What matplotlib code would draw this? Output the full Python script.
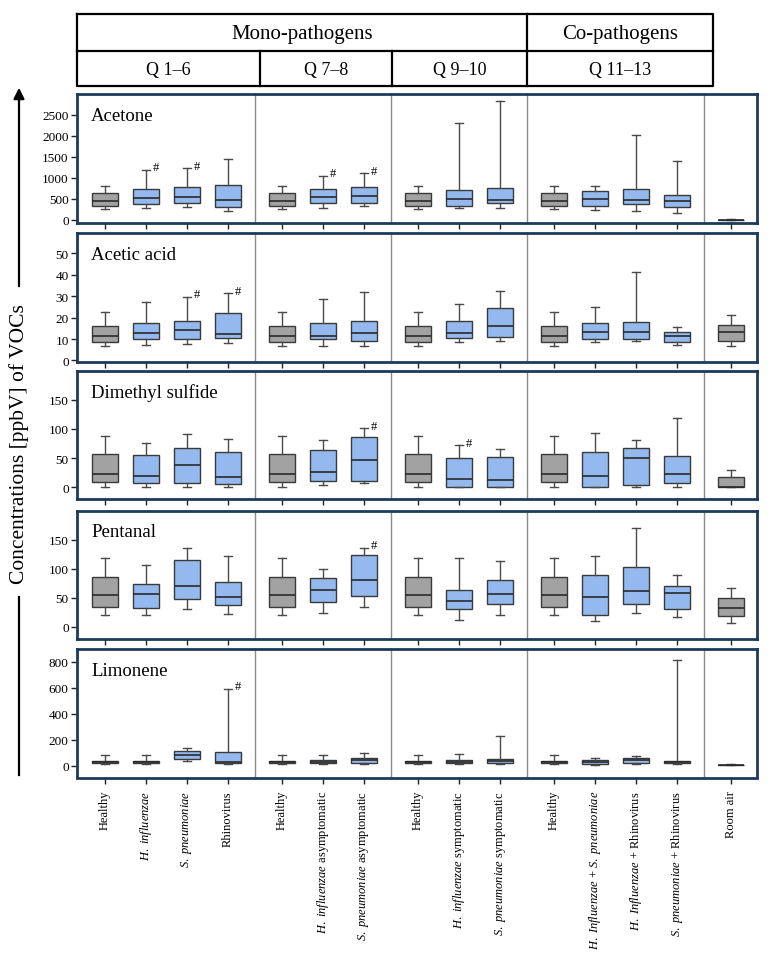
import matplotlib
matplotlib.use('Agg')
import matplotlib.pyplot as plt

plt.rcParams['font.family'] = ['Liberation Serif', 'DejaVu Serif']
plt.rcParams['mathtext.fontset'] = 'custom'
plt.rcParams['mathtext.rm'] = 'Liberation Serif'
plt.rcParams['mathtext.it'] = 'Liberation Serif:italic'

# ---- data ----
group_sizes = [4, 3, 3, 4, 1]
top_headers = ['Mono-pathogens', 'Co-pathogens']
q_headers = ['Q 1–6', 'Q 7–8', 'Q 9–10', 'Q 11–13']

labels = ['Healthy', r'$\mathit{H.\ influenzae}$', r'$\mathit{S.\ pneumoniae}$', 'Rhinovirus',
          'Healthy', r'$\mathit{H.\ influenzae}$ asymptomatic', r'$\mathit{S.\ pneumoniae}$ asymptomatic',
          'Healthy', r'$\mathit{H.\ influenzae}$ symptomatic', r'$\mathit{S.\ pneumoniae}$ symptomatic',
          'Healthy', r'$\mathit{H.\ Influenzae}$ + $\mathit{S.\ pneumoniae}$',
          r'$\mathit{H.\ Influenzae}$ + Rhinovirus', r'$\mathit{S.\ pneumoniae}$ + Rhinovirus',
          'Room air']
gray_boxes = [0, 4, 7, 10, 14]

compounds = ['Acetone', 'Acetic acid', 'Dimethyl sulfide', 'Pentanal', 'Limonene']

acetone_lo = [256, 287, 304, 215, 256, 287, 335, 256, 287, 273, 256, 225, 208, 153, 0]
acetone_q1 = [320, 368, 407, 297, 320, 392, 400, 320, 335, 400, 320, 335, 383, 311, 2]
acetone_med = [440, 512, 543, 464, 440, 550, 560, 440, 488, 464, 440, 488, 464, 440, 5]
acetone_q3 = [631, 727, 782, 823, 631, 727, 790, 631, 703, 766, 631, 679, 727, 584, 8]
acetone_hi = [806, 1196, 1230, 1459, 806, 1053, 1110, 806, 2320, 2823, 806, 814, 2019, 1404, 12]

acetic_lo = [6.7, 7.4, 7.6, 8.1, 6.7, 6.7, 6.7, 6.7, 8.8, 9.2, 6.7, 8.6, 9.2, 7.4, 6.7]
acetic_q1 = [8.6, 10.0, 10.1, 10.6, 8.6, 9.8, 9.2, 8.6, 10.4, 10.9, 8.6, 9.8, 10.1, 8.6, 9.0]
acetic_med = [11.5, 12.6, 14.0, 12.4, 11.5, 11.3, 12.7, 11.5, 12.7, 16.3, 11.5, 13.2, 13.2, 11.3, 13.2]
acetic_q3 = [16.1, 17.7, 18.6, 21.9, 16.1, 17.4, 18.3, 16.1, 18.6, 24.4, 16.1, 17.4, 17.9, 13.5, 16.7]
acetic_hi = [22.8, 27.2, 29.8, 31.3, 22.8, 28.8, 31.8, 22.8, 26.5, 32.3, 22.8, 24.8, 41.1, 15.8, 21.4]

dms_lo = [0, 0, 0, 0, 0, 4.1, 7.5, 0, 0, 0, 0, 0, 0, 0, 0]
dms_q1 = [9.2, 7.5, 7.5, 5.1, 9.2, 10.9, 10.9, 9.2, 0.5, 0.5, 9.2, 0.5, 3.4, 7.5, 0]
dms_med = [22.8, 19.9, 37.5, 17.7, 22.8, 26.2, 46.7, 22.8, 14.8, 13.1, 22.8, 18.7, 50.1, 23.3, 0.5]
dms_q3 = [56.9, 54.5, 68.1, 60.8, 56.9, 63.7, 85.9, 56.9, 50.1, 51.1, 56.9, 60.3, 68.1, 53.5, 17]
dms_hi = [88.6, 75.6, 92, 83.5, 88.6, 81.8, 101, 88.6, 71.6, 66, 88.6, 92.6, 81.8, 118.7, 29.6]

pentanal_lo = [19.6, 20.7, 31, 21.9, 19.6, 23.1, 33.4, 19.6, 12, 20, 19.6, 10, 24, 17, 6]
pentanal_q1 = [34.5, 32.2, 47.8, 36.9, 34.5, 42.6, 52.9, 34.5, 30, 39, 34.5, 20, 40, 31, 18]
pentanal_med = [54.1, 55.8, 69.7, 50.7, 54.1, 63.8, 80, 54.1, 45, 56, 54.1, 52, 62, 59, 32]
pentanal_q3 = [85.2, 74.1, 114.5, 77.1, 85.2, 84.5, 123.6, 85.2, 63, 80, 85.2, 90, 103, 71, 49]
pentanal_hi = [118.4, 105.8, 135.7, 122.4, 118.4, 99.5, 136.2, 118.4, 118, 113, 118.4, 121, 170, 89, 66]

limonene_lo = [13, 13, 36, 13, 13, 13, 13, 13, 13, 13, 13, 8, 13, 13, 4]
limonene_q1 = [18, 18, 54, 18, 18, 18, 18, 18, 18, 18, 18, 13, 23, 18, 6]
limonene_med = [28, 31, 82, 31, 28, 31, 41, 28, 31, 34, 28, 28, 46, 28, 8]
limonene_q3 = [38, 39, 118, 103, 38, 41, 57, 38, 44, 49, 38, 41, 62, 36, 10]
limonene_hi = [80, 80, 138, 590, 80, 80, 95, 80, 88, 231, 80, 59, 75, 818, 12]

all_stats = [
    (acetone_lo, acetone_q1, acetone_med, acetone_q3, acetone_hi),
    (acetic_lo, acetic_q1, acetic_med, acetic_q3, acetic_hi),
    (dms_lo, dms_q1, dms_med, dms_q3, dms_hi),
    (pentanal_lo, pentanal_q1, pentanal_med, pentanal_q3, pentanal_hi),
    (limonene_lo, limonene_q1, limonene_med, limonene_q3, limonene_hi),
]
significant = [[1, 2, 5, 6], [2, 3], [6, 8], [6], [3]]
yticks = [[0, 500, 1000, 1500, 2000, 2500], [0, 10, 20, 30, 40, 50],
          [0, 50, 100, 150], [0, 50, 100, 150], [0, 200, 400, 600, 800]]
ylims = [(-62, 3000), (-0.7, 59.4), (-20, 199), (-20, 200), (-90, 900)]

# ---- layout ----
W, H = 772, 954
gap = 1.32
pos = []
x = 0.0
for g, n in enumerate(group_sizes):
    if g > 0:
        x += gap - 1
    for k in range(n):
        pos.append(x)
        x += 1
dividers = []
i0 = 0
for n in group_sizes[:-1]:
    i0 += n
    dividers.append((pos[i0 - 1] + pos[i0]) / 2)

panel_y = [(95, 223.5), (234, 363), (372, 500), (511.5, 639.5), (650, 778.5)]
px_left, px_right = 77, 757


def px_rect(x0, y0, x1, y1):
    return [x0 / W, 1 - y1 / H, (x1 - x0) / W, (y1 - y0) / H]


fig = plt.figure(figsize=(W / 100, H / 100), dpi=100)

# overlay for header table and y label
ov = fig.add_axes([0, 0, 1, 1])
ov.set_xlim(0, W)
ov.set_ylim(H, 0)
ov.axis('off')
lk = dict(color='black', lw=1.6, solid_capstyle='projecting')
hx0, hx1, hy0, hym, hy1 = 77, 713, 15, 52, 87
ov.plot([hx0, hx1, hx1, hx0, hx0], [hy0, hy0, hy1, hy1, hy0], **lk)
ov.plot([hx0, hx1], [hym, hym], **lk)
ov.plot([527, 527], [hy0, hy1], **lk)
for xv in [260, 392]:
    ov.plot([xv, xv], [hym, hy1], **lk)
ov.text((hx0 + 527) / 2, (hy0 + hym) / 2 + 1, top_headers[0], ha='center', va='center', fontsize=15)
ov.text((527 + hx1) / 2, (hy0 + hym) / 2 + 1, top_headers[1], ha='center', va='center', fontsize=15)
qx = [77, 260, 392, 527, 713]
for k, t in enumerate(q_headers):
    ov.text((qx[k] + qx[k + 1]) / 2, (hym + hy1) / 2 + 1, t, ha='center', va='center', fontsize=13)

ov.annotate('', xy=(19, 86), xytext=(19, 290),
            arrowprops=dict(arrowstyle='-|>', lw=1.6, color='black', mutation_scale=16))
ov.plot([19, 19], [598, 776], color='black', lw=1.6)
ov.text(19, 444, 'Concentrations [ppbV] of VOCs', rotation=90, ha='center', va='center', fontsize=15.5)

frame_color = '#1d3a5c'
for p in range(5):
    y0, y1 = panel_y[p]
    ax = fig.add_axes(px_rect(px_left, y0, px_right, y1))
    lo, q1, med, q3, hi = all_stats[p]
    stats = [dict(whislo=lo[i], q1=q1[i], med=med[i], q3=q3[i], whishi=hi[i], fliers=[])
             for i in range(len(pos))]
    bp = ax.bxp(stats, positions=pos, widths=0.62, capwidths=0.2, patch_artist=True,
                showfliers=False,
                boxprops=dict(edgecolor='#3a3a3a', linewidth=1.0),
                medianprops=dict(color='#2a2a2a', linewidth=1.2),
                whiskerprops=dict(color='#4a4a4a', linewidth=1.0),
                capprops=dict(color='#4a4a4a', linewidth=1.0))
    for i, b in enumerate(bp['boxes']):
        b.set_facecolor('#a2a2a2' if i in gray_boxes else '#94b9ee')
    for i in significant[p]:
        ax.annotate('#', xy=(pos[i], hi[i]), xytext=(5, 2), textcoords='offset points',
                    fontsize=9, ha='left', va='center')
    for d in dividers:
        ax.axvline(d, color='#8a8a8a', lw=1.0)
    ax.set_xlim(-0.683, 15.91)
    ax.set_ylim(*ylims[p])
    ax.set_yticks(yticks[p])
    ax.set_xticks(pos)
    if p == 4:
        ax.set_xticklabels(labels, rotation=90, fontsize=9, va='top', ha='center')
    else:
        ax.set_xticklabels([])
    ax.tick_params(axis='both', direction='out', length=4, width=1.0, colors='#222222',
                   labelsize=9.5, labelcolor='black', pad=2)
    ax.tick_params(axis='x', labelsize=9, pad=5)
    for s in ax.spines.values():
        s.set_color(frame_color)
        s.set_linewidth(2.0)
    ax.text(0.021, 0.835, compounds[p], transform=ax.transAxes, fontsize=13.5, ha='left', va='center')

fig.savefig('out.png', dpi=100)
